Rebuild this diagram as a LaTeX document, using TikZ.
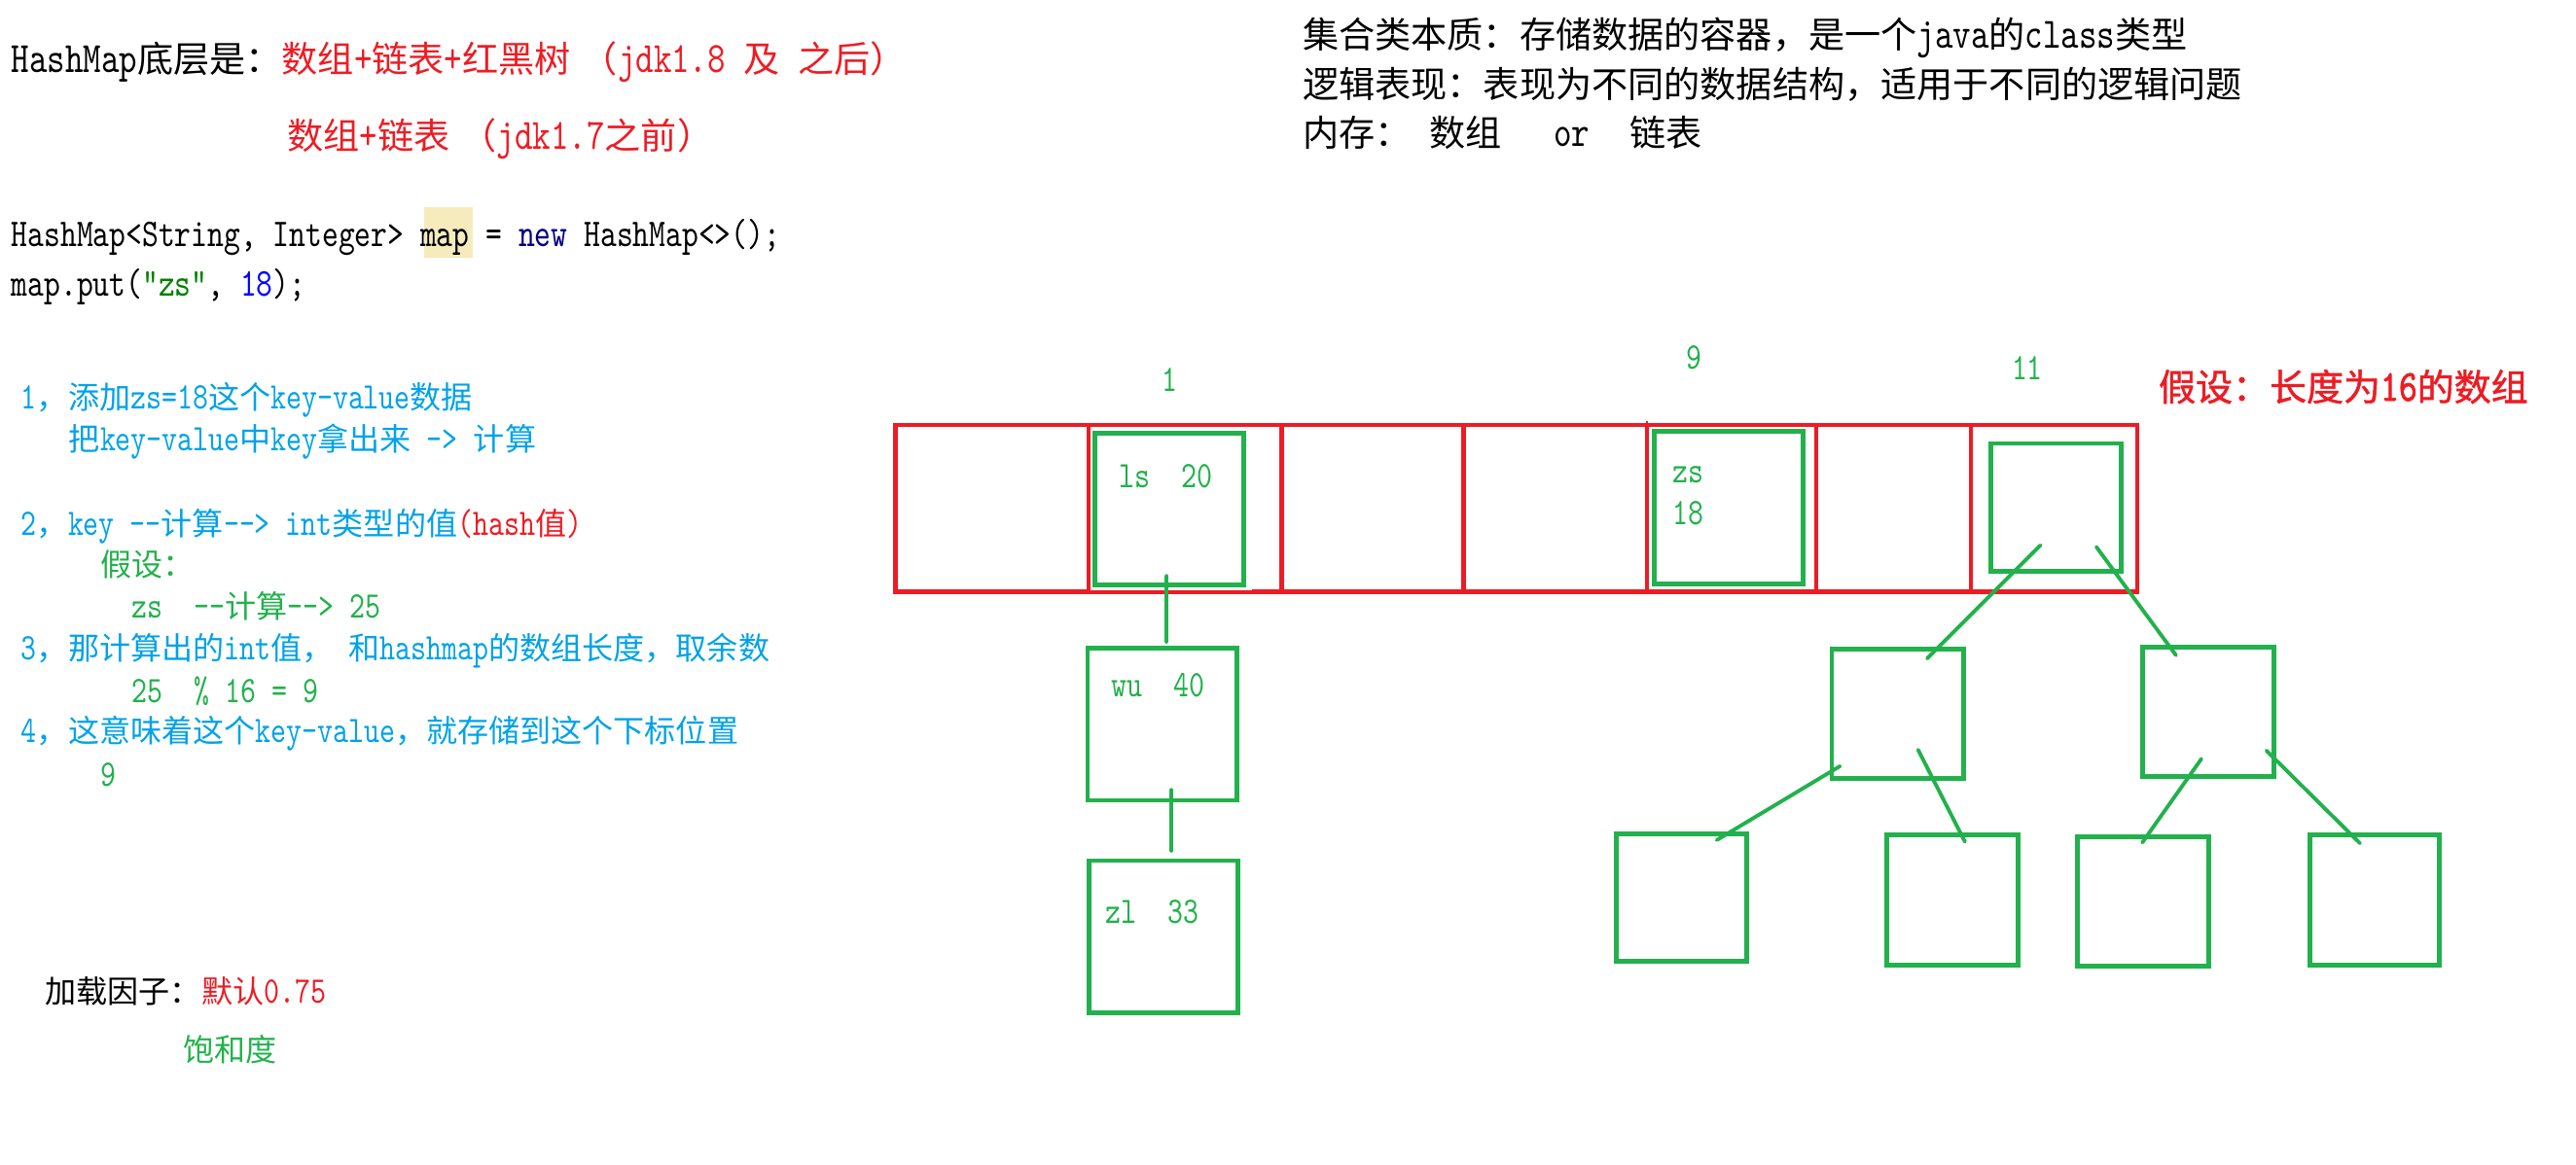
\documentclass[tikz,border=0pt]{standalone}
\usepackage{fontspec}
\usetikzlibrary{calc}
\setmainfont{lmmono10-regular.otf}[Scale=1.2,FakeStretch=0.79]
\newfontfamily\latinfont{lmmono10-regular.otf}[Scale=1.2,FakeStretch=0.79,
  BoldFont=lmmono10-regular.otf,BoldFeatures={FakeBold=1.6}]
\newfontfamily\cjkfont{Noto Sans CJK SC}[BoldFont={Noto Sans CJK SC},BoldFeatures={FakeBold=1.3}]
\XeTeXinterchartokenstate=1
\newXeTeXintercharclass\CJKclass
\newcount\cjkcnt
\cjkcnt="3000
\loop\ifnum\cjkcnt<"A000 \XeTeXcharclass\cjkcnt=\CJKclass \advance\cjkcnt by 1 \repeat
\cjkcnt="FF00
\loop\ifnum\cjkcnt<"FFF0 \XeTeXcharclass\cjkcnt=\CJKclass \advance\cjkcnt by 1 \repeat
\XeTeXinterchartoks 0 \CJKclass = {\cjkfont}
\XeTeXinterchartoks 4095 \CJKclass = {\cjkfont}
\XeTeXinterchartoks \CJKclass 0 = {\latinfont}
\XeTeXinterchartoks 4095 0 = {\latinfont}
\newcommand\hs[1]{{\cjkfont\hskip#1em}}
\definecolor{pred}{HTML}{ED1C24}
\definecolor{pgreen}{HTML}{22B14C}
\definecolor{pblue}{HTML}{00A2E8}
\definecolor{knavy}{HTML}{000080}
\definecolor{kgreen}{HTML}{008000}
\definecolor{kblue}{HTML}{0000FF}
\definecolor{hlcol}{HTML}{F6EBBC}
\tikzset{
  txt/.style={inner sep=0pt, outer sep=0pt, anchor=base west},
  fA/.style={font=\fontsize{10.57pt}{12pt}\selectfont},
  fB/.style={font=\fontsize{9.61pt}{11pt}\selectfont},
  fC/.style={font=\fontsize{9.13pt}{11pt}\selectfont},
  fD/.style={font=\fontsize{10.81pt}{12pt}\selectfont\bfseries},
  cell/.style={draw=pred, line width=1.3pt, inner sep=0pt, outer sep=0pt,
    minimum width=#1*0.48051pt, minimum height=101.6*0.48051pt},
  gbox/.style 2 args={draw=pgreen, line width=1.4pt, inner sep=0pt, outer sep=0pt,
    minimum width=#1*0.48051pt, minimum height=#2*0.48051pt},
  gline/.style={draw=pgreen, line width=1.1pt, line cap=round},
  hlbox/.style 2 args={fill=hlcol, inner sep=0pt, outer sep=0pt,
    minimum width=#1*0.48051pt, minimum height=#2*0.48051pt},
}
\begin{document}
\begin{tikzpicture}[x=0.016888cm, y=-0.016888cm]
\useasboundingbox (0,0) rectangle (1568,709);

% ---- array cells ----
\node[cell=117.6] (cA) at (603.8,309.5) {};
\node[cell=117.4] (cB) at (721.3,309.5) {};
\node[cell=110.8] (cC) at (835.4,309.5) {};
\node[cell=111.7] (cD) at (946.65,309.5) {};
\node[cell=103]   (cE) at (1054,309.5) {};
\node[cell=94.1]  (cF) at (1152.55,309.5) {};
\node[cell=101.4] (cG) at (1250.3,309.5) {};
\draw[draw=pred, line width=0.8pt] (cE.north west) -- ++(0,-2.5);
\fill[white] (663.6,261) rectangle (762,359.3);

% ---- green boxes ----
\node[gbox={90.5}{92}]   (ls)   at (711.75,310) {};
\node[gbox={91}{93}]     (zs)   at (1052.3,309) {};
\node[gbox={79}{78}]     (root) at (1251.5,309) {};
\node[gbox={91}{92.7}]   (wu)   at (707.5,441) {};
\node[gbox={90.5}{92.8}] (zl)   at (708.25,570.4) {};
\node[gbox={80}{79}]     (lc)   at (1155,434.5) {};
\node[gbox={80}{79}]     (rc)   at (1344,433.5) {};
\node[gbox={79}{78}]     (LL)   at (1023.5,546.5) {};
\node[gbox={80}{79}]     (LR)   at (1188.5,548) {};
\node[gbox={80}{78.5}]   (RL)   at (1304.5,549) {};
\node[gbox={79}{79}]     (RR)   at (1445.5,548) {};

% ---- connectors ----
\draw[gline] ($(ls.south)+(-1.75,-5.5)$) -- ($(wu.north)+(2.5,-3.7)$);
\draw[gline] ($(wu.south)+(5.5,-6.4)$) -- ($(zl.north)+(4.75,-6)$);
\draw[gline] ($(root.center)+(-9.5,23)$) -- ($(lc.center)+(18,-33.5)$);
\draw[gline] ($(root.center)+(24.5,24)$) -- ($(rc.center)+(-19.5,-34.5)$);
\draw[gline] ($(lc.center)+(-35,32)$) -- ($(LL.center)+(21.5,-35)$);
\draw[gline] ($(lc.center)+(12.5,22)$) -- ($(LR.center)+(7.5,-35.5)$);
\draw[gline] ($(rc.center)+(-4,28.5)$) -- ($(RL.center)+(-0.5,-36)$);
\draw[gline] ($(rc.center)+(35.5,23.5)$) -- ($(RR.center)+(-9,-34.5)$);

% ---- box texts ----
\node[fC, inner sep=0pt, anchor=west, text=pgreen] (lstxt) at (681,290) {ls\hs{1}20};
\node[fC, inner sep=0pt, anchor=west, text=pgreen] (zstxt) at (1018,289) {zs};
\node[fC, inner sep=0pt, anchor=west, text=pgreen] (zsval) at (1018,312.6) {18};
\node[fC, inner sep=0pt, anchor=west, text=pgreen] (wutxt) at (676,417.4) {wu\hs{1}40};
\node[fC, inner sep=0pt, anchor=west, text=pgreen] (zltxt) at (672.6,555) {zl\hs{1}33};

% ---- index labels ----
\node[fC, inner sep=0pt, text=pgreen] (i1)  at (712,231) {1};
\node[fC, inner sep=0pt, text=pgreen] (i9)  at (1031,218) {9};
\node[fC, inner sep=0pt, text=pgreen] (i11) at (1234,224) {11};
\node[txt, fD, text=pred] (assume) at (1314,244) {假设：长度为16的数组};

% ---- title ----
\node[txt, fA] (title1) at (7,44.4) {HashMap底层是：\textcolor{pred}{数组+链表+红黑树\hs{0.3}（jdk1.8\hs{0.5}及\hs{0.5}之后）}};
\node[txt, fA, text=pred] (title2) at (175,90.9) {数组+链表\hs{0.3}（jdk1.7之前）};

% ---- code ----
\node[hlbox={30}{31}] (hlmap) at (273,141.5) {};
\node[txt, fB] (code1) at (7,150) {HashMap<String,\hs{0.5}Integer>\hs{0.5}map\hs{0.5}=\hs{0.5}\textcolor{knavy}{new}\hs{0.5}HashMap<>();};
\node[txt, fB] (code2) at (7,180.5) {map.put(\textcolor{kgreen}{"zs"},\hs{0.5}\textcolor{kblue}{18});};

% ---- top right ----
\node[txt, fA] (r1) at (793,29.4) {集合类本质：存储数据的容器，是一个java的class类型};
\node[txt, fA] (r2) at (793,59.4) {逻辑表现：表现为不同的数据结构，适用于不同的逻辑问题};
\node[txt, fA] (r3) at (793,89.4) {内存：\hs{0.5}数组\hs{1.45}or\hs{1.1}链表};

% ---- steps ----
\node[txt, fC, text=pblue] (s1)  at (13,249.2) {1，添加zs=18这个key-value数据};
\node[txt, fC, text=pblue] (s1b) at (42,274.7) {把key-value中key拿出来\hs{0.5}->\hs{0.5}计算};
\node[txt, fC, text=pblue] (s2)  at (13,325.9) {2，key\hs{0.5}-{}-计算-{}->\hs{0.5}int类型的值\textcolor{pred}{(hash值)}};
\node[txt, fC, text=pgreen] (s2a) at (61.3,350.6) {假设：};
\node[txt, fC, text=pgreen] (s2b) at (80,376.2) {zs\hs{1}-{}-计算-{}->\hs{0.5}25};
\node[txt, fC, text=pblue] (s3)  at (13,401.9) {3，那计算出的int值，\hs{0.5}和hashmap的数组长度，取余数};
\node[txt, fC, text=pgreen] (s3a) at (80,427.6) {25\hs{1}\%\hs{0.5}16\hs{0.5}=\hs{0.5}9};
\node[txt, fC, text=pblue] (s4)  at (13,452.2) {4，这意味着这个key-value，就存储到这个下标位置};
\node[txt, fC, text=pgreen] (s4a) at (61.3,478.9) {9};

% ---- bottom left ----
\node[txt, fC] (load) at (27.6,610.9) {加载因子：\textcolor{pred}{默认0.75}};
\node[txt, fC, text=pgreen] (sat) at (111.5,646.6) {饱和度};
\end{tikzpicture}
\end{document}
